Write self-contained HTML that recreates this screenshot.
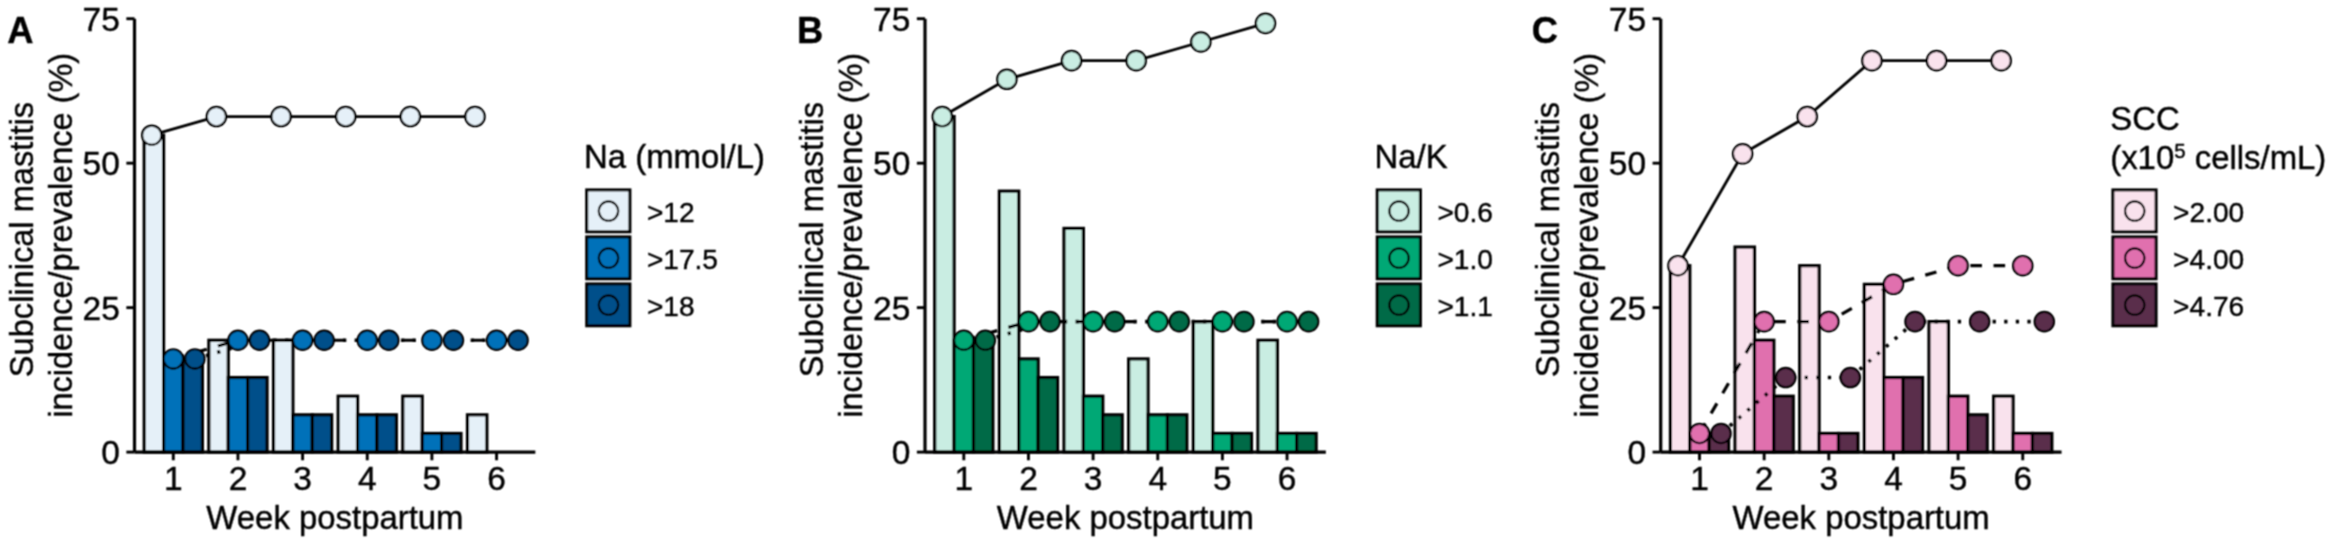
<!DOCTYPE html>
<html lang="en">
<head>
<meta charset="utf-8">
<title>Subclinical mastitis incidence/prevalence</title>
<style>
html,body{margin:0;padding:0;background:#fff;}
body{width:2335px;height:550px;overflow:hidden;}
svg{display:block;}
svg text{font-family:"Liberation Sans", sans-serif;fill:#000;stroke:#000;stroke-width:0.4px;}
</style>
</head>
<body>
<svg width="2335" height="550" viewBox="0 0 2335 550">
<defs><filter id="soft" x="0" y="0" width="2335" height="550" filterUnits="userSpaceOnUse"><feConvolveMatrix order="3" kernelMatrix="1 2 1 2 4 2 1 2 1" divisor="16" edgeMode="none"/></filter></defs>
<rect width="2335" height="550" fill="#fff"/>
<g filter="url(#soft)">
<g transform="translate(0 0)">
<g stroke="#000" stroke-width="3.2" stroke-linejoin="miter">
<rect x="144.21" y="135.2" width="19.4" height="316.9" fill="#E5F0F8"/>
<rect x="163.6" y="358.9" width="19.4" height="93.2" fill="#0571B9"/>
<rect x="183" y="358.9" width="19.4" height="93.2" fill="#05508A"/>
<rect x="208.86" y="340.25" width="19.4" height="111.85" fill="#E5F0F8"/>
<rect x="228.25" y="377.54" width="19.4" height="74.56" fill="#0571B9"/>
<rect x="247.65" y="377.54" width="19.4" height="74.56" fill="#05508A"/>
<rect x="273.51" y="340.25" width="19.4" height="111.85" fill="#E5F0F8"/>
<rect x="292.9" y="414.82" width="19.4" height="37.28" fill="#0571B9"/>
<rect x="312.3" y="414.82" width="19.4" height="37.28" fill="#05508A"/>
<rect x="338.16" y="396.18" width="19.4" height="55.92" fill="#E5F0F8"/>
<rect x="357.55" y="414.82" width="19.4" height="37.28" fill="#0571B9"/>
<rect x="376.95" y="414.82" width="19.4" height="37.28" fill="#05508A"/>
<rect x="402.81" y="396.18" width="19.4" height="55.92" fill="#E5F0F8"/>
<rect x="422.2" y="433.46" width="19.4" height="18.64" fill="#0571B9"/>
<rect x="441.6" y="433.46" width="19.4" height="18.64" fill="#05508A"/>
<rect x="467.46" y="414.82" width="19.4" height="37.28" fill="#E5F0F8"/>
<rect x="486.85" y="452.1" width="19.4" height="0" fill="#0571B9"/>
<rect x="506.25" y="452.1" width="19.4" height="0" fill="#05508A"/>
</g>
<polyline points="151.75,135.2 216.4,116.56 281.05,116.56 345.7,116.56 410.35,116.56 475,116.56" fill="none" stroke="#000" stroke-width="2.8"/>
<polyline points="173.3,358.9 237.95,340.25 302.6,340.25 367.25,340.25 431.9,340.25 496.55,340.25" fill="none" stroke="#000" stroke-width="3.2" stroke-dasharray="11.6 11.6"/>
<polyline points="194.85,358.9 259.5,340.25 324.15,340.25 388.8,340.25 453.45,340.25 518.1,340.25" fill="none" stroke="#000" stroke-width="3.6" stroke-dasharray="3.3 8.3"/>
<g stroke="#000" stroke-width="2.2">
<circle cx="151.75" cy="135.2" r="9.67" fill="#E5F0F8"/>
<circle cx="216.4" cy="116.56" r="9.67" fill="#E5F0F8"/>
<circle cx="281.05" cy="116.56" r="9.67" fill="#E5F0F8"/>
<circle cx="345.7" cy="116.56" r="9.67" fill="#E5F0F8"/>
<circle cx="410.35" cy="116.56" r="9.67" fill="#E5F0F8"/>
<circle cx="475" cy="116.56" r="9.67" fill="#E5F0F8"/>
<circle cx="173.3" cy="358.9" r="9.67" fill="#0571B9"/>
<circle cx="237.95" cy="340.25" r="9.67" fill="#0571B9"/>
<circle cx="302.6" cy="340.25" r="9.67" fill="#0571B9"/>
<circle cx="367.25" cy="340.25" r="9.67" fill="#0571B9"/>
<circle cx="431.9" cy="340.25" r="9.67" fill="#0571B9"/>
<circle cx="496.55" cy="340.25" r="9.67" fill="#0571B9"/>
<circle cx="194.85" cy="358.9" r="9.67" fill="#05508A"/>
<circle cx="259.5" cy="340.25" r="9.67" fill="#05508A"/>
<circle cx="324.15" cy="340.25" r="9.67" fill="#05508A"/>
<circle cx="388.8" cy="340.25" r="9.67" fill="#05508A"/>
<circle cx="453.45" cy="340.25" r="9.67" fill="#05508A"/>
<circle cx="518.1" cy="340.25" r="9.67" fill="#05508A"/>
</g>
<g stroke="#000" stroke-width="3.2" fill="none">
<path d="M134.51 18.7V452.1"/>
<path d="M134.51 452.1H535.34"/>
</g>
<g stroke="#000" stroke-width="2.9" fill="none">
<path d="M126.35 452.1H134.51"/>
<path d="M126.35 307.63H134.51"/>
<path d="M126.35 163.17H134.51"/>
<path d="M126.35 18.7H134.51"/>
<path d="M173.3 452.1V460.26"/>
<path d="M237.95 452.1V460.26"/>
<path d="M302.6 452.1V460.26"/>
<path d="M367.25 452.1V460.26"/>
<path d="M431.9 452.1V460.26"/>
<path d="M496.55 452.1V460.26"/>
</g>
<text transform="translate(119.85 464)" font-size="33.5" text-anchor="end">0</text>
<text transform="translate(119.85 319.53)" font-size="33.5" text-anchor="end">25</text>
<text transform="translate(119.85 175.07)" font-size="33.5" text-anchor="end">50</text>
<text transform="translate(119.85 30.6)" font-size="33.5" text-anchor="end">75</text>
<text transform="translate(173.3 490.2)" font-size="33.5" text-anchor="middle">1</text>
<text transform="translate(237.95 490.2)" font-size="33.5" text-anchor="middle">2</text>
<text transform="translate(302.6 490.2)" font-size="33.5" text-anchor="middle">3</text>
<text transform="translate(367.25 490.2)" font-size="33.5" text-anchor="middle">4</text>
<text transform="translate(431.9 490.2)" font-size="33.5" text-anchor="middle">5</text>
<text transform="translate(496.55 490.2)" font-size="33.5" text-anchor="middle">6</text>
<text transform="translate(334.93 528.9)" font-size="32.9" text-anchor="middle">Week postpartum</text>
<text transform="translate(32.7 235) rotate(-90)" font-size="32.6" text-anchor="middle" xml:space="preserve">Subclinical mastitis </text>
<text transform="translate(71.5 235.3) rotate(-90)" font-size="32.5" text-anchor="middle">incidence/prevalence (%)</text>
<text transform="translate(7.3 43.3)" font-size="36.3" text-anchor="start" font-weight="bold">A</text>
<rect x="586.7" y="189.9" width="43.2" height="41.9" fill="#E5F0F8" stroke="#000" stroke-width="3"/>
<circle cx="608.5" cy="211.1" r="9.67" fill="#E5F0F8" stroke="#000" stroke-width="2.2"/>
<text transform="translate(646.9 221.5)" font-size="28.1" text-anchor="start">&gt;12</text>
<rect x="586.7" y="236.9" width="43.2" height="41.9" fill="#0571B9" stroke="#000" stroke-width="3"/>
<circle cx="608.5" cy="258.1" r="9.67" fill="#0571B9" stroke="#000" stroke-width="2.2"/>
<text transform="translate(646.9 268.5)" font-size="28.1" text-anchor="start">&gt;17.5</text>
<rect x="586.7" y="283.9" width="43.2" height="41.9" fill="#05508A" stroke="#000" stroke-width="3"/>
<circle cx="608.5" cy="305.1" r="9.67" fill="#05508A" stroke="#000" stroke-width="2.2"/>
<text transform="translate(646.9 315.5)" font-size="28.1" text-anchor="start">&gt;18</text>
<text transform="translate(584 168.2)" font-size="32.9" text-anchor="start">Na (mmol/L)</text>
</g>
<g transform="translate(790.5 0)">
<g stroke="#000" stroke-width="3.2" stroke-linejoin="miter">
<rect x="144.21" y="116.56" width="19.4" height="335.54" fill="#C9EDE2"/>
<rect x="163.6" y="340.25" width="19.4" height="111.85" fill="#00A875"/>
<rect x="183" y="340.25" width="19.4" height="111.85" fill="#006B47"/>
<rect x="208.86" y="191.13" width="19.4" height="260.97" fill="#C9EDE2"/>
<rect x="228.25" y="358.9" width="19.4" height="93.2" fill="#00A875"/>
<rect x="247.65" y="377.54" width="19.4" height="74.56" fill="#006B47"/>
<rect x="273.51" y="228.41" width="19.4" height="223.69" fill="#C9EDE2"/>
<rect x="292.9" y="396.18" width="19.4" height="55.92" fill="#00A875"/>
<rect x="312.3" y="414.82" width="19.4" height="37.28" fill="#006B47"/>
<rect x="338.16" y="358.9" width="19.4" height="93.2" fill="#C9EDE2"/>
<rect x="357.55" y="414.82" width="19.4" height="37.28" fill="#00A875"/>
<rect x="376.95" y="414.82" width="19.4" height="37.28" fill="#006B47"/>
<rect x="402.81" y="321.61" width="19.4" height="130.49" fill="#C9EDE2"/>
<rect x="422.2" y="433.46" width="19.4" height="18.64" fill="#00A875"/>
<rect x="441.6" y="433.46" width="19.4" height="18.64" fill="#006B47"/>
<rect x="467.46" y="340.25" width="19.4" height="111.85" fill="#C9EDE2"/>
<rect x="486.85" y="433.46" width="19.4" height="18.64" fill="#00A875"/>
<rect x="506.25" y="433.46" width="19.4" height="18.64" fill="#006B47"/>
</g>
<polyline points="151.75,116.56 216.4,79.28 281.05,60.64 345.7,60.64 410.35,42 475,23.36" fill="none" stroke="#000" stroke-width="2.8"/>
<polyline points="173.3,340.25 237.95,321.61 302.6,321.61 367.25,321.61 431.9,321.61 496.55,321.61" fill="none" stroke="#000" stroke-width="3.2" stroke-dasharray="11.6 11.6"/>
<polyline points="194.85,340.25 259.5,321.61 324.15,321.61 388.8,321.61 453.45,321.61 518.1,321.61" fill="none" stroke="#000" stroke-width="3.6" stroke-dasharray="3.3 8.3"/>
<g stroke="#000" stroke-width="2.2">
<circle cx="151.75" cy="116.56" r="9.67" fill="#C9EDE2"/>
<circle cx="216.4" cy="79.28" r="9.67" fill="#C9EDE2"/>
<circle cx="281.05" cy="60.64" r="9.67" fill="#C9EDE2"/>
<circle cx="345.7" cy="60.64" r="9.67" fill="#C9EDE2"/>
<circle cx="410.35" cy="42" r="9.67" fill="#C9EDE2"/>
<circle cx="475" cy="23.36" r="9.67" fill="#C9EDE2"/>
<circle cx="173.3" cy="340.25" r="9.67" fill="#00A875"/>
<circle cx="237.95" cy="321.61" r="9.67" fill="#00A875"/>
<circle cx="302.6" cy="321.61" r="9.67" fill="#00A875"/>
<circle cx="367.25" cy="321.61" r="9.67" fill="#00A875"/>
<circle cx="431.9" cy="321.61" r="9.67" fill="#00A875"/>
<circle cx="496.55" cy="321.61" r="9.67" fill="#00A875"/>
<circle cx="194.85" cy="340.25" r="9.67" fill="#006B47"/>
<circle cx="259.5" cy="321.61" r="9.67" fill="#006B47"/>
<circle cx="324.15" cy="321.61" r="9.67" fill="#006B47"/>
<circle cx="388.8" cy="321.61" r="9.67" fill="#006B47"/>
<circle cx="453.45" cy="321.61" r="9.67" fill="#006B47"/>
<circle cx="518.1" cy="321.61" r="9.67" fill="#006B47"/>
</g>
<g stroke="#000" stroke-width="3.2" fill="none">
<path d="M134.51 18.7V452.1"/>
<path d="M134.51 452.1H535.34"/>
</g>
<g stroke="#000" stroke-width="2.9" fill="none">
<path d="M126.35 452.1H134.51"/>
<path d="M126.35 307.63H134.51"/>
<path d="M126.35 163.17H134.51"/>
<path d="M126.35 18.7H134.51"/>
<path d="M173.3 452.1V460.26"/>
<path d="M237.95 452.1V460.26"/>
<path d="M302.6 452.1V460.26"/>
<path d="M367.25 452.1V460.26"/>
<path d="M431.9 452.1V460.26"/>
<path d="M496.55 452.1V460.26"/>
</g>
<text transform="translate(119.85 464)" font-size="33.5" text-anchor="end">0</text>
<text transform="translate(119.85 319.53)" font-size="33.5" text-anchor="end">25</text>
<text transform="translate(119.85 175.07)" font-size="33.5" text-anchor="end">50</text>
<text transform="translate(119.85 30.6)" font-size="33.5" text-anchor="end">75</text>
<text transform="translate(173.3 490.2)" font-size="33.5" text-anchor="middle">1</text>
<text transform="translate(237.95 490.2)" font-size="33.5" text-anchor="middle">2</text>
<text transform="translate(302.6 490.2)" font-size="33.5" text-anchor="middle">3</text>
<text transform="translate(367.25 490.2)" font-size="33.5" text-anchor="middle">4</text>
<text transform="translate(431.9 490.2)" font-size="33.5" text-anchor="middle">5</text>
<text transform="translate(496.55 490.2)" font-size="33.5" text-anchor="middle">6</text>
<text transform="translate(334.93 528.9)" font-size="32.9" text-anchor="middle">Week postpartum</text>
<text transform="translate(32.7 235) rotate(-90)" font-size="32.6" text-anchor="middle" xml:space="preserve">Subclinical mastitis </text>
<text transform="translate(71.5 235.3) rotate(-90)" font-size="32.5" text-anchor="middle">incidence/prevalence (%)</text>
<text transform="translate(6.5 43.3)" font-size="36.3" text-anchor="start" font-weight="bold">B</text>
<rect x="586.7" y="189.9" width="43.2" height="41.9" fill="#C9EDE2" stroke="#000" stroke-width="3"/>
<circle cx="608.5" cy="211.1" r="9.67" fill="#C9EDE2" stroke="#000" stroke-width="2.2"/>
<text transform="translate(646.9 221.5)" font-size="28.1" text-anchor="start">&gt;0.6</text>
<rect x="586.7" y="236.9" width="43.2" height="41.9" fill="#00A875" stroke="#000" stroke-width="3"/>
<circle cx="608.5" cy="258.1" r="9.67" fill="#00A875" stroke="#000" stroke-width="2.2"/>
<text transform="translate(646.9 268.5)" font-size="28.1" text-anchor="start">&gt;1.0</text>
<rect x="586.7" y="283.9" width="43.2" height="41.9" fill="#006B47" stroke="#000" stroke-width="3"/>
<circle cx="608.5" cy="305.1" r="9.67" fill="#006B47" stroke="#000" stroke-width="2.2"/>
<text transform="translate(646.9 315.5)" font-size="28.1" text-anchor="start">&gt;1.1</text>
<text transform="translate(584 168.2)" font-size="32.9" text-anchor="start">Na/K</text>
</g>
<g transform="translate(1526.2 0)">
<g stroke="#000" stroke-width="3.2" stroke-linejoin="miter">
<rect x="144.21" y="265.69" width="19.4" height="186.41" fill="#F9E2ED"/>
<rect x="163.6" y="433.46" width="19.4" height="18.64" fill="#E06FAE"/>
<rect x="183" y="433.46" width="19.4" height="18.64" fill="#5A2D4B"/>
<rect x="208.86" y="247.05" width="19.4" height="205.05" fill="#F9E2ED"/>
<rect x="228.25" y="340.25" width="19.4" height="111.85" fill="#E06FAE"/>
<rect x="247.65" y="396.18" width="19.4" height="55.92" fill="#5A2D4B"/>
<rect x="273.51" y="265.69" width="19.4" height="186.41" fill="#F9E2ED"/>
<rect x="292.9" y="433.46" width="19.4" height="18.64" fill="#E06FAE"/>
<rect x="312.3" y="433.46" width="19.4" height="18.64" fill="#5A2D4B"/>
<rect x="338.16" y="284.33" width="19.4" height="167.77" fill="#F9E2ED"/>
<rect x="357.55" y="377.54" width="19.4" height="74.56" fill="#E06FAE"/>
<rect x="376.95" y="377.54" width="19.4" height="74.56" fill="#5A2D4B"/>
<rect x="402.81" y="321.61" width="19.4" height="130.49" fill="#F9E2ED"/>
<rect x="422.2" y="396.18" width="19.4" height="55.92" fill="#E06FAE"/>
<rect x="441.6" y="414.82" width="19.4" height="37.28" fill="#5A2D4B"/>
<rect x="467.46" y="396.18" width="19.4" height="55.92" fill="#F9E2ED"/>
<rect x="486.85" y="433.46" width="19.4" height="18.64" fill="#E06FAE"/>
<rect x="506.25" y="433.46" width="19.4" height="18.64" fill="#5A2D4B"/>
</g>
<polyline points="151.75,265.69 216.4,153.84 281.05,116.56 345.7,60.64 410.35,60.64 475,60.64" fill="none" stroke="#000" stroke-width="2.8"/>
<polyline points="173.3,433.46 237.95,321.61 302.6,321.61 367.25,284.33 431.9,265.69 496.55,265.69" fill="none" stroke="#000" stroke-width="3.2" stroke-dasharray="11.6 11.6"/>
<polyline points="194.85,433.46 259.5,377.54 324.15,377.54 388.8,321.61 453.45,321.61 518.1,321.61" fill="none" stroke="#000" stroke-width="3.6" stroke-dasharray="3.3 8.3"/>
<g stroke="#000" stroke-width="2.2">
<circle cx="151.75" cy="265.69" r="9.67" fill="#F9E2ED"/>
<circle cx="216.4" cy="153.84" r="9.67" fill="#F9E2ED"/>
<circle cx="281.05" cy="116.56" r="9.67" fill="#F9E2ED"/>
<circle cx="345.7" cy="60.64" r="9.67" fill="#F9E2ED"/>
<circle cx="410.35" cy="60.64" r="9.67" fill="#F9E2ED"/>
<circle cx="475" cy="60.64" r="9.67" fill="#F9E2ED"/>
<circle cx="173.3" cy="433.46" r="9.67" fill="#E06FAE"/>
<circle cx="237.95" cy="321.61" r="9.67" fill="#E06FAE"/>
<circle cx="302.6" cy="321.61" r="9.67" fill="#E06FAE"/>
<circle cx="367.25" cy="284.33" r="9.67" fill="#E06FAE"/>
<circle cx="431.9" cy="265.69" r="9.67" fill="#E06FAE"/>
<circle cx="496.55" cy="265.69" r="9.67" fill="#E06FAE"/>
<circle cx="194.85" cy="433.46" r="9.67" fill="#5A2D4B"/>
<circle cx="259.5" cy="377.54" r="9.67" fill="#5A2D4B"/>
<circle cx="324.15" cy="377.54" r="9.67" fill="#5A2D4B"/>
<circle cx="388.8" cy="321.61" r="9.67" fill="#5A2D4B"/>
<circle cx="453.45" cy="321.61" r="9.67" fill="#5A2D4B"/>
<circle cx="518.1" cy="321.61" r="9.67" fill="#5A2D4B"/>
</g>
<g stroke="#000" stroke-width="3.2" fill="none">
<path d="M134.51 18.7V452.1"/>
<path d="M134.51 452.1H535.34"/>
</g>
<g stroke="#000" stroke-width="2.9" fill="none">
<path d="M126.35 452.1H134.51"/>
<path d="M126.35 307.63H134.51"/>
<path d="M126.35 163.17H134.51"/>
<path d="M126.35 18.7H134.51"/>
<path d="M173.3 452.1V460.26"/>
<path d="M237.95 452.1V460.26"/>
<path d="M302.6 452.1V460.26"/>
<path d="M367.25 452.1V460.26"/>
<path d="M431.9 452.1V460.26"/>
<path d="M496.55 452.1V460.26"/>
</g>
<text transform="translate(119.85 464)" font-size="33.5" text-anchor="end">0</text>
<text transform="translate(119.85 319.53)" font-size="33.5" text-anchor="end">25</text>
<text transform="translate(119.85 175.07)" font-size="33.5" text-anchor="end">50</text>
<text transform="translate(119.85 30.6)" font-size="33.5" text-anchor="end">75</text>
<text transform="translate(173.3 490.2)" font-size="33.5" text-anchor="middle">1</text>
<text transform="translate(237.95 490.2)" font-size="33.5" text-anchor="middle">2</text>
<text transform="translate(302.6 490.2)" font-size="33.5" text-anchor="middle">3</text>
<text transform="translate(367.25 490.2)" font-size="33.5" text-anchor="middle">4</text>
<text transform="translate(431.9 490.2)" font-size="33.5" text-anchor="middle">5</text>
<text transform="translate(496.55 490.2)" font-size="33.5" text-anchor="middle">6</text>
<text transform="translate(334.93 528.9)" font-size="32.9" text-anchor="middle">Week postpartum</text>
<text transform="translate(32.7 235) rotate(-90)" font-size="32.6" text-anchor="middle" xml:space="preserve">Subclinical mastitis </text>
<text transform="translate(71.5 235.3) rotate(-90)" font-size="32.5" text-anchor="middle">incidence/prevalence (%)</text>
<text transform="translate(5.5 43.3)" font-size="36.3" text-anchor="start" font-weight="bold">C</text>
<rect x="586.7" y="189.9" width="43.2" height="41.9" fill="#F9E2ED" stroke="#000" stroke-width="3"/>
<circle cx="608.5" cy="211.1" r="9.67" fill="#F9E2ED" stroke="#000" stroke-width="2.2"/>
<text transform="translate(646.9 221.5)" font-size="28.1" text-anchor="start">&gt;2.00</text>
<rect x="586.7" y="236.9" width="43.2" height="41.9" fill="#E06FAE" stroke="#000" stroke-width="3"/>
<circle cx="608.5" cy="258.1" r="9.67" fill="#E06FAE" stroke="#000" stroke-width="2.2"/>
<text transform="translate(646.9 268.5)" font-size="28.1" text-anchor="start">&gt;4.00</text>
<rect x="586.7" y="283.9" width="43.2" height="41.9" fill="#5A2D4B" stroke="#000" stroke-width="3"/>
<circle cx="608.5" cy="305.1" r="9.67" fill="#5A2D4B" stroke="#000" stroke-width="2.2"/>
<text transform="translate(646.9 315.5)" font-size="28.1" text-anchor="start">&gt;4.76</text>
<text transform="translate(584 129.5)" font-size="32.9" text-anchor="start">SCC</text>
<text transform="translate(584 168.6)" font-size="32.9" text-anchor="start">(x10<tspan font-size="20.5" dy="-11">5</tspan><tspan dy="11"> cells/mL)</tspan></text>
</g>
</g>
</svg>
</body>
</html>
